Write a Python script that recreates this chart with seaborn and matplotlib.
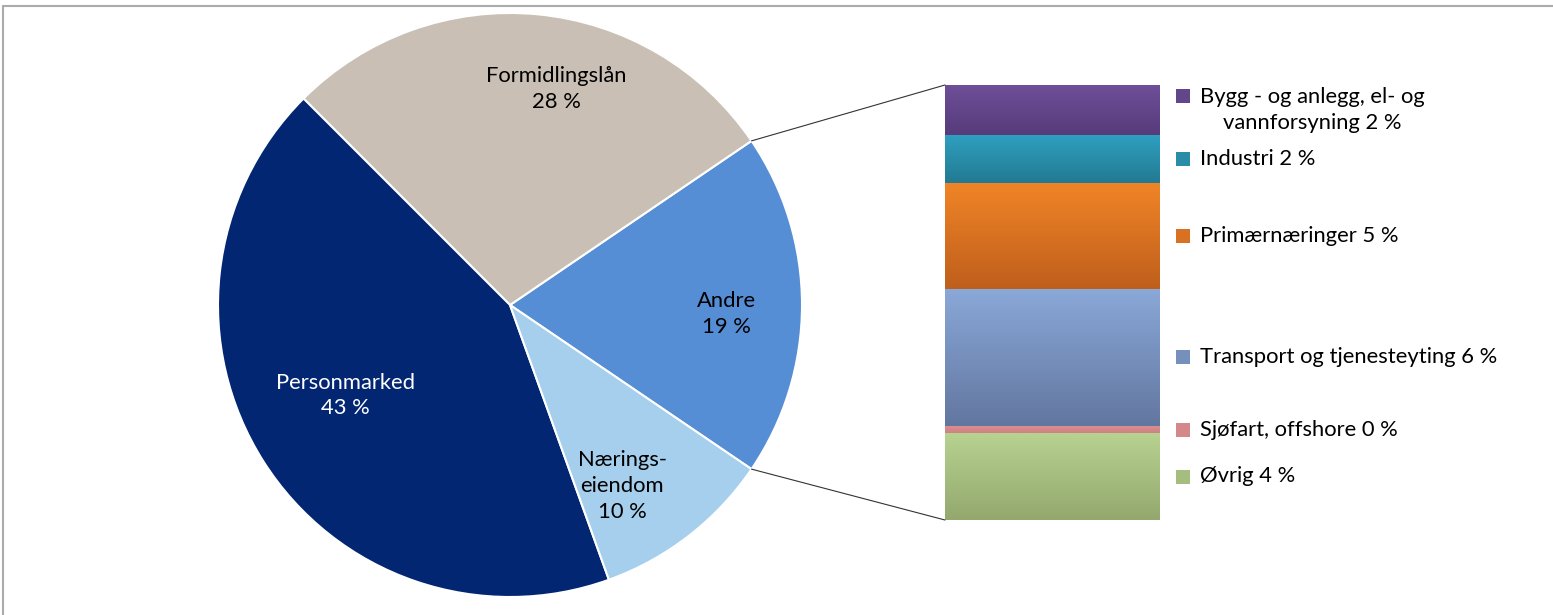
import numpy as np
import matplotlib
matplotlib.use('Agg')
import matplotlib.pyplot as plt
import matplotlib.colors as mcolors
import matplotlib.transforms as mtransforms
from matplotlib.lines import Line2D
from matplotlib.patches import ConnectionPatch
import seaborn as sns

# pie data (Andre first, counter-clockwise)
pie_labels = ['Andre\n19 %', 'Formidlingslån\n28 %', 'Personmarked\n43 %', 'Nærings-\neiendom\n10 %']
pie_values = [19, 28, 43, 10]
pie_colors = ['#568ED6', '#C9BFB4', '#022672', '#A5CFEC']
pie_text_colors = ['black', 'black', 'white', 'black']
# label positions in pie units (radius = 1)
pie_label_pos = [(0.74, -0.03), (0.16, 0.74), (-0.565, -0.31), (0.385, -0.62)]

# stacked bar (bottom to top), splits "Andre"
bar_labels = ['Øvrig 4 %', 'Sjøfart, offshore 0 %', 'Transport og tjenesteyting 6 %',
              'Primærnæringer 5 %', 'Industri 2 %', 'Bygg - og anlegg, el- og\nvannforsyning 2 %']
bar_values = [3.8, 0.3, 6.0, 4.6, 2.1, 2.2]
bar_top_colors = ['#B7D291', '#DB8E8E', '#8AA8D8', '#F08427', '#2FA0C0', '#6E4F99']
bar_bot_colors = ['#94A86E', '#CF8283', '#6277A0', '#BF5F1C', '#237A92', '#573B7A']

sns.set_theme(style='white')
plt.rcParams['font.family'] = ['Lato', 'DejaVu Sans']
FS = 15.8

W, H = 1553, 615
fig = plt.figure(figsize=(W / 100, H / 100), dpi=100)

# pie
ax_pie = fig.add_axes([218 / W, 1 - 597 / H, 584 / W, 584 / H])
start = -pie_values[0] / sum(pie_values) * 180
wedges, _ = ax_pie.pie(pie_values, colors=pie_colors, startangle=start, counterclock=True,
                       wedgeprops=dict(edgecolor='white', linewidth=1.5))
for txt, (px, py), tc in zip(pie_labels, pie_label_pos, pie_text_colors):
    ax_pie.text(px, py, txt, ha='center', va='center', color=tc, fontsize=FS,
                linespacing=1.35)
ax_pie.set_xlim(-1, 1)
ax_pie.set_ylim(-1, 1)
ax_pie.set_aspect('equal')
ax_pie.axis('off')

# stacked bar
ax_bar = fig.add_axes([945 / W, 1 - 520 / H, 608 / W, 435 / H])
cats = ['Andre']
bottom = 0
for v, c in zip(bar_values, bar_top_colors):
    sns.barplot(x=cats, y=[v], bottom=bottom, color=c, width=0.8, errorbar=None,
                saturation=1, linewidth=0, ax=ax_bar)
    bottom += v
total = sum(bar_values)

for patch, ct, cb in zip(ax_bar.patches, bar_top_colors, bar_bot_colors):
    x0, y0 = patch.get_x(), patch.get_y()
    w, h = patch.get_width(), patch.get_height()
    t = np.linspace(0, 1, 64)[:, None]
    grad = (1 - t) * np.array(mcolors.to_rgb(ct)) + t * np.array(mcolors.to_rgb(cb))
    im = ax_bar.imshow(grad[:, None, :], extent=[x0, x0 + w, y0, y0 + h], origin='upper',
                       aspect='auto', zorder=patch.get_zorder() + 0.1, interpolation='bilinear')
    im.set_clip_path(patch)

ax_bar.set_xlim(-0.4, -0.4 + 0.8 * 608 / 215)
ax_bar.set_ylim(0, total)
ax_bar.axis('off')

# legend next to segments
trans = ax_bar.get_yaxis_transform()
bottom = 0
for lab, v, ct, cb in zip(bar_labels, bar_values, bar_top_colors, bar_bot_colors):
    yc = bottom + v / 2
    bottom += v
    nlines = lab.count('\n') + 1
    ax_bar.text(255 / 608, yc, lab, transform=trans, ha='left', va='center',
                multialignment='center', fontsize=FS, linespacing=1.35, color='black')
    mc = np.mean([mcolors.to_rgb(ct), mcolors.to_rgb(cb)], axis=0)
    mtrans = mtransforms.offset_copy(trans, fig=fig, x=0, y=14 * (nlines - 1), units='dots')
    ax_bar.scatter([238 / 608], [yc], marker='s', s=110, color=mc, transform=mtrans,
                   clip_on=False, linewidths=0)

# connector lines from "Andre" slice to bar
andre = wedges[0]
for ang, yb in [(andre.theta2, total), (andre.theta1, 0)]:
    r = np.deg2rad(ang)
    con = ConnectionPatch(xyA=(np.cos(r), np.sin(r)), coordsA=ax_pie.transData,
                          xyB=(-0.4, yb), coordsB=ax_bar.transData,
                          color='#333333', linewidth=0.8)
    fig.add_artist(con)

# frame lines
fig.add_artist(Line2D([3 / W, 1], [1 - 6 / H] * 2, transform=fig.transFigure,
                      color='#ABABAB', linewidth=1.5))
fig.add_artist(Line2D([3 / W] * 2, [0, 1 - 6 / H], transform=fig.transFigure,
                      color='#ABABAB', linewidth=1.5))

fig.savefig('out.png', dpi=100, facecolor='white')
